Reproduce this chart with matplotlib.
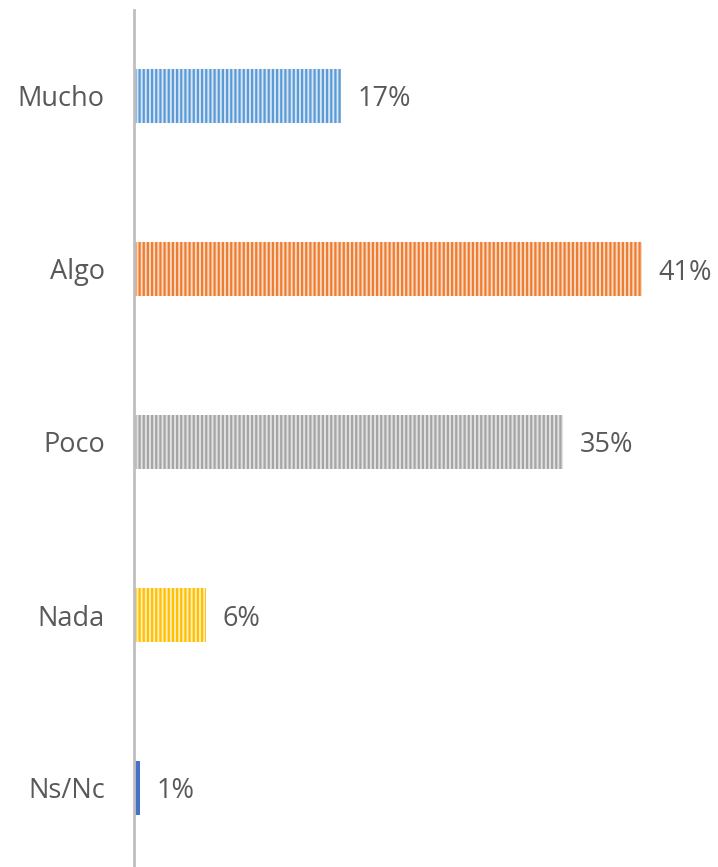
import matplotlib
matplotlib.use("Agg")
import matplotlib.pyplot as plt

categories = ["Mucho", "Algo", "Poco", "Nada", "Ns/Nc"]
values = [16.7, 41.0, 34.6, 5.8, 0.5]
labels = ["17%", "41%", "35%", "6%", "1%"]
stripe_colors = ["#5b9bd5", "#ed7d31", "#a5a5a5", "#ffc000", "#4472c4"]
fill_colors = ["#d6e5f5", "#fbd9c3", "#e2e2e2", "#ffedb8", "#4472c4"]
hatches = ["||||", "||||", "||||", "||||", None]

plt.rcParams["hatch.linewidth"] = 1.6
plt.rcParams["font.family"] = ["Open Sans", "DejaVu Sans"]

W, H = 718, 867
fig = plt.figure(figsize=(W / 100, H / 100), dpi=100)
left = 134 / W
top_px = 9.5
ax = fig.add_axes([left, 0, 1 - left, (H - top_px) / H])

ypos = list(range(len(categories)))
for y, v, fc, sc, h in zip(ypos, values, fill_colors, stripe_colors, hatches):
    ax.barh(y, v, height=0.312, color=fc, edgecolor=sc, linewidth=0, hatch=h)

for y, v, lab in zip(ypos, values, labels):
    ax.annotate(lab, xy=(v, y), xytext=(12, 0), textcoords="offset points",
                ha="left", va="center_baseline", fontsize=19.5, color="#595959")

px_per_unit = 508 / 41.0
ax.set_xlim(0, (W - 134) / px_per_unit)
ax.set_ylim(4 + (H - 788) / 173, -0.5)

ax.set_yticks(ypos)
ax.set_yticklabels(categories, fontsize=19.5, color="#595959", va="center_baseline")
ax.tick_params(axis="y", length=0, pad=21)
ax.set_xticks([])
for s in ["top", "right", "bottom"]:
    ax.spines[s].set_visible(False)
ax.spines["left"].set_color("#bfbfbf")
ax.spines["left"].set_linewidth(2.0)
ax.patch.set_alpha(0)

fig.savefig("out.png", dpi=100)
